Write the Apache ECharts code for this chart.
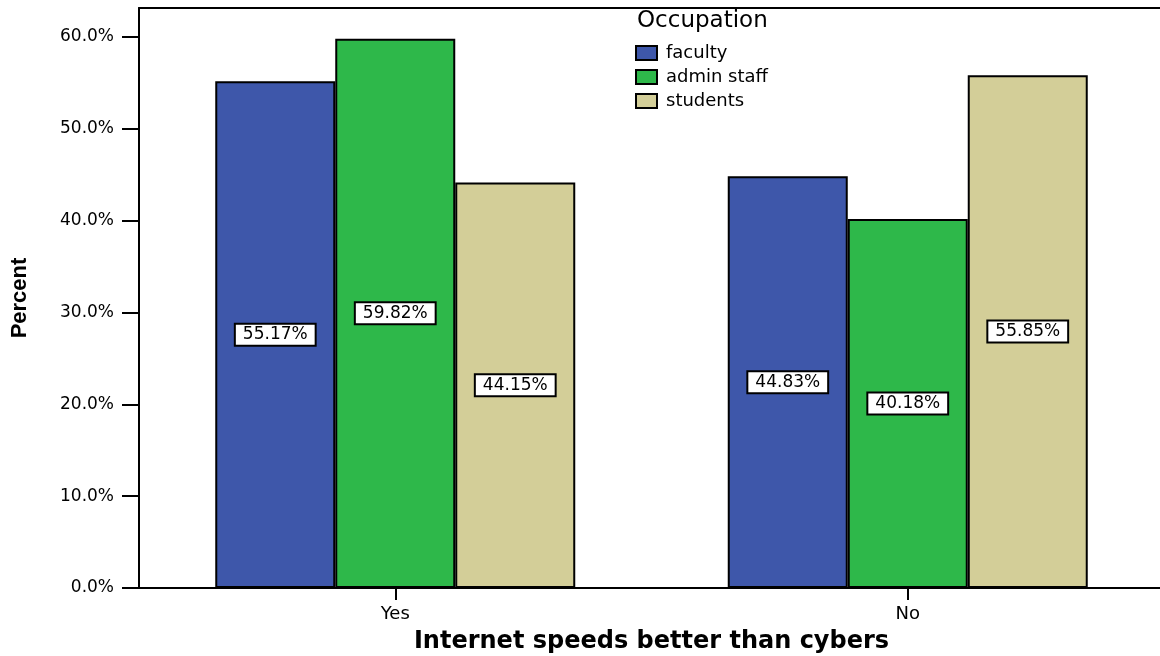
<!DOCTYPE html>
<html>
<head>
<meta charset="utf-8">
<script src="https://cdn.jsdelivr.net/npm/echarts@6/dist/echarts.min.js"></script>
<style>
html,body{margin:0;padding:0;background:#fff;}
#chart{width:1160px;height:656px;}
</style>
</head>
<body>
<div id="chart"></div>
<script>
var categories = ['Yes', 'No'];
var seriesNames = ['faculty', 'admin staff', 'students'];
var faculty = [55.17, 44.83];
var adminStaff = [59.82, 40.18];
var students = [44.15, 55.85];
var yTicks = [0, 10, 20, 30, 40, 50, 60];
var colors = ['#3E57AA', '#2EB84A', '#D3CE98'];

var chart = echarts.init(document.getElementById('chart'), null, {renderer: 'canvas'});

function mkSeries(name, data, color) {
  return {
    name: name,
    type: 'bar',
    data: data,
    barWidth: 120,
    barGap: '0%',
    xAxisIndex: 0,
    itemStyle: {color: color, borderColor: '#000', borderWidth: 2},
    label: {
      show: true,
      position: 'inside',
      formatter: function (p) { return p.value.toFixed(2) + '%'; },
      color: '#000',
      fontFamily: 'DejaVu Sans',
      fontSize: 17,
      backgroundColor: '#fff',
      borderColor: '#000',
      borderWidth: 2,
      padding: [2, 7, 1, 7]
    }
  };
}

var option = {
  animation: false,
  backgroundColor: '#fff',
  title: {
    text: 'Occupation',
    left: 632,
    top: 5,
    textStyle: {fontFamily: 'DejaVu Sans', fontSize: 23, fontWeight: 'normal', color: '#000'}
  },
  legend: {
    orient: 'vertical',
    left: 630,
    top: 39,
    icon: 'rect',
    itemWidth: 21,
    itemHeight: 14,
    itemGap: 6,
    data: seriesNames,
    textStyle: {fontFamily: 'DejaVu Sans', fontSize: 18, color: '#000', padding: [0, 0, 0, 4]},
    itemStyle: {borderColor: '#000', borderWidth: 2}
  },
  grid: {left: 139, top: 8, width: 1025, bottom: 68, containLabel: false, outerBoundsMode: 'none'},
  xAxis: [{
    type: 'category',
    data: categories,
    position: 'bottom',
    name: 'Internet speeds better than cybers',
    nameLocation: 'middle',
    nameGap: 42,
    nameTextStyle: {fontFamily: 'DejaVu Sans', fontSize: 24, fontWeight: 'bold', color: '#000'},
    axisLine: {show: true, lineStyle: {color: '#000', width: 2}},
    axisTick: {show: true, alignWithLabel: true, length: 12, lineStyle: {color: '#000', width: 2}},
    axisLabel: {fontFamily: 'DejaVu Sans', fontSize: 18, color: '#000', margin: 17},
    splitLine: {show: false}
  }, {
    type: 'category',
    data: categories,
    position: 'top',
    axisLine: {show: true, lineStyle: {color: '#000', width: 2}},
    axisTick: {show: false},
    axisLabel: {show: false},
    splitLine: {show: false}
  }],
  yAxis: {
    type: 'value',
    min: 0,
    max: 63.16,
    interval: 10,
    name: 'Percent',
    nameLocation: 'middle',
    nameGap: 108,
    nameRotate: 90,
    nameTextStyle: {fontFamily: 'Liberation Sans', fontSize: 22, fontWeight: 'bold', color: '#000'},
    axisLine: {show: true, lineStyle: {color: '#000', width: 2}},
    axisTick: {show: true, length: 17, customValues: yTicks, lineStyle: {color: '#000', width: 2}},
    axisLabel: {
      customValues: yTicks,
      fontFamily: 'DejaVu Sans', fontSize: 17, color: '#000', margin: 25,
      formatter: function (v) { return v.toFixed(1) + '%'; }
    },
    splitLine: {show: false}
  },
  series: [
    mkSeries(seriesNames[0], faculty, colors[0]),
    mkSeries(seriesNames[1], adminStaff, colors[1]),
    mkSeries(seriesNames[2], students, colors[2])
  ]
};
chart.setOption(option);
</script>
</body>
</html>
